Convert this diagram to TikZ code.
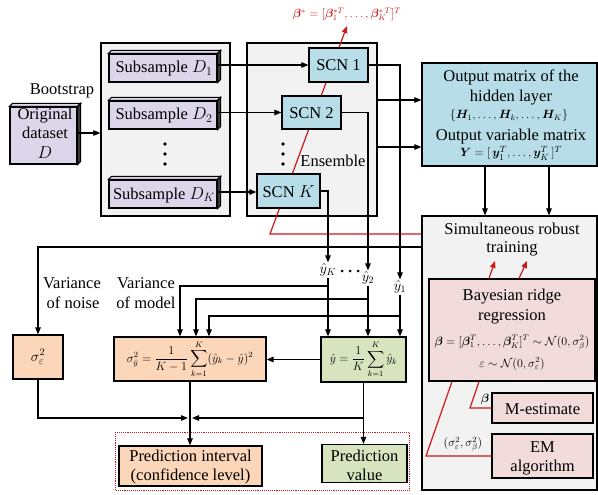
\documentclass[tikz,border=0pt]{standalone}
\usepackage{amsmath}
\usepackage{bm}
\usepackage[no-math]{fontspec}
\setmainfont{Liberation Serif}
\usetikzlibrary{arrows.meta}
\definecolor{purp}{RGB}{221,213,233}
\definecolor{myblue}{RGB}{183,222,232}
\definecolor{myorange}{RGB}{251,214,184}
\definecolor{mygreen}{RGB}{216,228,190}
\definecolor{mypink}{RGB}{242,220,219}
\definecolor{bggray}{RGB}{242,242,242}
\definecolor{myred}{RGB}{205,25,25}
\definecolor{extr}{RGB}{60,60,60}
\newcommand\mainfs{\fontsize{16.5}{20}\selectfont}
\newcommand\mathfs{\fontsize{14}{16}\selectfont}
\newcommand\smallmfs{\fontsize{12}{14}\selectfont}
\newcommand\extrudebox[1]{%
  \draw[line width=1.1pt, fill=purp] (#1.north west) -- ([shift={(3pt,3pt)}]#1.north west) -- ([shift={(3pt,3pt)}]#1.north east) -- (#1.north east) -- cycle;
  \draw[line width=1.1pt, fill=extr] (#1.north east) -- ([shift={(3pt,3pt)}]#1.north east) -- ([shift={(3pt,3pt)}]#1.south east) -- (#1.south east) -- cycle;}
\begin{document}
\begin{tikzpicture}[x=1pt,y=-1pt,
  every node/.style={font=\mainfs, inner sep=0pt},
  box/.style={draw, line width=1.2pt, align=center},
  grp/.style={draw, line width=1.2pt, fill=bggray},
  ln/.style={line width=1.1pt},
  arr/.style={ln, -{Triangle[length=7pt,width=5.5pt]}},
  rln/.style={draw=myred, line width=1.2pt},
  rarr/.style={rln, -{Triangle[length=7pt,width=5.5pt]}},
  dot/.style={circle, fill=black, minimum size=3.6pt, inner sep=0pt},
  lbl/.style={anchor=base, align=center},
]
\useasboundingbox (0,0) rectangle (598,495);

% group boxes
\node[grp, minimum width=129pt, minimum height=173pt] (sub) at (165.5,129.5) {};
\node[grp, minimum width=130pt, minimum height=173pt] (ens) at (312,129.5) {};
\node[grp, minimum width=175pt, minimum height=274pt] (train) at (509.5,353) {};

% red ensemble line (behind the SCN boxes)
\coordinate (rb) at (270,234);
\coordinate (rt) at (347,26);
\draw[rarr] (train.west |- rb) -- (rb) -- (rt);
\node[text=myred, font=\fontsize{11.5}{13}\selectfont] (bstar) at (347,14) {$\bm{\beta}^{*}=[\bm{\beta}_1^{*T},\ldots,\bm{\beta}_K^{*\,T}]^{T}$};

% original dataset
\node[box, fill=purp, minimum width=67pt, minimum height=57pt] (orig) at (43.5,135.5) {};
\extrudebox{orig}
\node[lbl] (origt1) at (45,120) {Original};
\node[lbl] (origt2) at (45,139) {dataset};
\node[lbl] (origt3) at (45,158) {$D$};
\node[lbl] (boot) at (62,95) {Bootstrap};
\draw[arr] (orig.east |- 0,133) -- (sub.west |- 0,133);

% subsamples
\node[box, fill=purp, minimum width=108pt, minimum height=28pt] (D1) at (163,68) {};
\node[box, fill=purp, minimum width=108pt, minimum height=28pt] (D2) at (163,115) {};
\node[box, fill=purp, minimum width=108pt, minimum height=28pt] (DK) at (163,194) {};
\extrudebox{D1}\extrudebox{D2}\extrudebox{DK}
\node[lbl] (D1t) at (164,73) {Subsample $D_1$};
\node[lbl] (D2t) at (164,120) {Subsample $D_2$};
\node[lbl] (DKt) at (164,199) {Subsample $D_K$};
\node[dot] (sd1) at (165,144) {};
\node[dot] (sd2) at (165,154) {};
\node[dot] (sd3) at (165,164) {};

% SCNs
\node[box, fill=myblue, minimum width=59pt, minimum height=34pt] (S1) at (338.5,65) {};
\node[box, fill=myblue, minimum width=59pt, minimum height=33pt] (S2) at (311.5,112.5) {};
\node[box, fill=myblue, minimum width=63pt, minimum height=34pt] (SK) at (288.5,191) {};
\node[lbl] (S1t) at (338.5,71) {SCN 1};
\node[lbl] (S2t) at (311.5,118) {SCN 2};
\node[lbl] (SKt) at (288.5,197) {SCN $K$};
\node[dot] (ed1) at (283,144) {};
\node[dot] (ed2) at (283,154) {};
\node[dot] (ed3) at (283,164) {};
\node[lbl] (ensl) at (333,166) {Ensemble};

\draw[arr] (D1.east |- S1.west) -- (S1.west);
\draw[arr] (D2.east |- S2.west) -- (S2.west);
\draw[arr] (DK.east |- 0,192) -- (SK.west |- 0,192);

% output matrix box
\node[box, fill=myblue, minimum width=175pt, minimum height=103pt] (out) at (509.5,114.5) {};
\node[lbl] (o1) at (511,82) {Output matrix of the};
\node[lbl] (o2) at (511,102) {hidden layer};
\node[lbl, font=\smallmfs] (o3) at (509,119) {$\{\bm{H}_1,\ldots,\bm{H}_k,\ldots,\bm{H}_K\}$};
\node[lbl] (o4) at (511,140) {Output variable matrix};
\node[lbl, font=\fontsize{13}{15}\selectfont] (o5) at (511,157) {$\bm{Y}=[\,\bm{y}_1^{T},\ldots,\bm{y}_K^{T}\,]^{T}$};
\draw[arr] (ens.east |- 0,100) -- (out.west |- 0,100);
\draw[arr] (ens.east |- 0,147) -- (out.west |- 0,147);
\draw[arr] (out.south -| 485,0) -- (train.north -| 485,0);
\draw[arr] (out.south -| 549,0) -- (train.north -| 549,0);

% training box content
\node[lbl] (t1) at (512,234) {Simultaneous robust};
\node[lbl] (t2) at (512,252) {training};
\node[box, fill=mypink, minimum width=166pt, minimum height=102pt] (bay) at (512,330) {};
\node[lbl] (b1) at (512,300) {Bayesian ridge};
\node[lbl] (b2) at (512,320) {regression};
\node[lbl, font=\fontsize{11.5}{13}\selectfont] (b3) at (512,345) {$\bm{\beta}=[\bm{\beta}_1^{T},\ldots,\bm{\beta}_K^{T}]^{T}\sim\mathcal{N}(0,\sigma_\beta^2)$};
\node[lbl, font=\smallmfs] (b4) at (512,367) {$\varepsilon\sim\mathcal{N}(0,\sigma_\varepsilon^2)$};
\draw[rarr] (bay.north -| 489,0) -- (495,261);
\draw[rarr] (bay.north -| 519,0) -- (527,261);
\node[box, fill=mypink, minimum width=101pt, minimum height=30pt] (mest) at (542.5,408) {};
\node[lbl] (mestt) at (542.5,414) {M-estimate};
\node[box, fill=mypink, minimum width=101pt, minimum height=44pt] (em) at (542.5,456) {};
\node[lbl] (em1) at (542.5,452) {EM};
\node[lbl] (em2) at (542.5,471) {algorithm};
\coordinate (mb) at (470,408);
\coordinate (eb) at (426,456);
\draw[rln] (bay.south -| 479,0) -- (mb) -- (mest.west);
\draw[rln] (bay.south -| 452,0) -- (eb) -- (em.west);
\node[font=\smallmfs] (betal) at (485,399) {$\bm{\beta}$};
\node[font=\smallmfs] (sigl) at (463,444) {$(\sigma_\varepsilon^2,\sigma_\beta^2)$};

% y hat labels
\node[font=\mathfs, inner sep=1pt] (yK) at (328,270) {$\hat{y}_K$};
\node[font=\mathfs, inner sep=1pt] (y2) at (368,278) {$\hat{y}_2$};
\node[font=\mathfs, inner sep=1pt] (y1) at (400,287) {$\hat{y}_1$};
\node[dot, minimum size=3pt] (yd1) at (342,271) {};
\node[dot, minimum size=3pt] (yd2) at (350,271) {};
\node[dot, minimum size=3pt] (yd3) at (358,271) {};
\draw[arr] (S1.east) -| (y1.north);
\draw[arr] (S2.east) -| (y2.north);
\draw[arr] (SK.east) -| (yK.north);

% noise line
\node[box, fill=myorange, minimum width=50pt, minimum height=44pt, font=\mathfs] (sige) at (38,357) {$\sigma_\varepsilon^2$};
\draw[arr] (train.west |- 0,247) -| (sige.north);
\node[lbl] (vn1) at (72,288) {Variance};
\node[lbl] (vn2) at (73,308) {of noise};
\node[lbl] (vm1) at (146,288) {Variance};
\node[lbl] (vm2) at (146,308) {of model};

% variance / mean boxes
\node[box, fill=myorange, minimum width=152pt, minimum height=44pt, font=\fontsize{11.5}{13}\selectfont] (sigy) at (190,359) {$\displaystyle\sigma_{\hat{y}}^2=\frac{1}{K-1}\sum_{k=1}^{K}(\hat{y}_k-\hat{y})^2$};
\node[box, fill=mygreen, minimum width=85pt, minimum height=45pt, font=\fontsize{12}{14}\selectfont] (yhat) at (363.5,359.5) {$\displaystyle\hat{y}=\frac{1}{K}\sum_{k=1}^{K}\hat{y}_k$};

\coordinate (mK) at (180,286);
\coordinate (m2) at (196,299);
\coordinate (m1) at (209,316);
\draw[arr] (yK.south) -- (yhat.north -| yK.south);
\draw[arr] (y2.south) -- (yhat.north -| y2.south);
\draw[arr] (y1.south) -- (yhat.north -| y1.south);
\draw[arr] (yK.south |- mK) -| (sigy.north -| mK);
\draw[arr] (y2.south |- m2) -| (sigy.north -| m2);
\draw[arr] (y1.south |- m1) -| (sigy.north -| m1);
\draw[arr] (yhat.west) -- (sigy.east |- yhat.west);

% prediction outputs
\draw[myred, line width=0.9pt, densely dotted] (115,432) rectangle (409,490);
\node[box, fill=myorange, minimum width=143pt, minimum height=40pt] (PI) at (190.5,466) {};
\node[lbl] (PI1) at (190.5,461) {Prediction interval};
\node[lbl] (PI2) at (190.5,480) {(confidence level)};
\node[box, fill=mygreen, minimum width=85pt, minimum height=38pt] (PV) at (364.5,463.5) {};
\node[lbl] (PV1) at (364.5,461) {Prediction};
\node[lbl] (PV2) at (364.5,480) {value};

\coordinate (J) at (190,418);
\draw[arr] (sigy.south -| J) -- (PI.north -| J);
\draw[arr] (sige.south) |- ([xshift=-2pt]J);
\draw[arr] (yhat.south |- J) -- ([xshift=2pt]J);
\draw[arr] (yhat.south) -- (PV.north -| yhat.south);
\end{tikzpicture}
\end{document}
